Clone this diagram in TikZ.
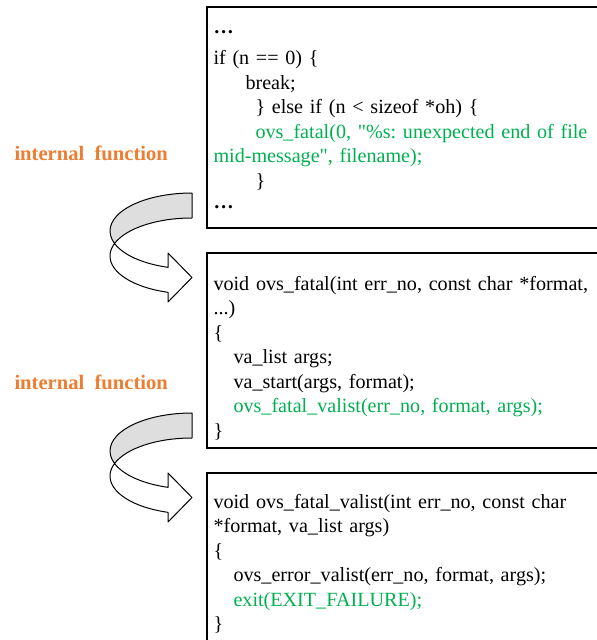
\documentclass[tikz,border=0pt]{standalone}
\usepackage{fontspec}
\setmainfont{Liberation Serif}
\definecolor{codegreen}{RGB}{0,176,80}
\definecolor{noteorange}{RGB}{237,125,49}
\definecolor{bandgray}{RGB}{222,222,222}
\newcommand{\codefont}{\fontsize{15.1pt}{18.4pt}\selectfont\frenchspacing}
\newcommand{\notefont}{\fontsize{15.45pt}{18.4pt}\selectfont\bfseries}
\tikzset{every picture/.style={line width=0.75pt},
  codebox/.style={draw, line width=1pt},
  codetext/.style={anchor=base west, inner sep=0pt, text width=330pt, align=left, font=\codefont},
  callnote/.style={anchor=base west, inner sep=0pt, font=\notefont, text=noteorange},
  backband/.style={draw, fill=bandgray, line join=round},
  frontband/.style={draw, fill=white, line join=round}}

\begin{document}
\begin{tikzpicture}[x=0.75pt,y=0.75pt,yscale=-1,xscale=1]
\useasboundingbox (0,0) rectangle (597,640);
\clip (0,0) rectangle (597,640);

%Shape: Rectangle [caller]
\draw[codebox] (207,7) rectangle (620,228);
%Shape: Rectangle [ovs_fatal]
\draw[codebox] (207,253) rectangle (620,448);
%Shape: Rectangle [ovs_fatal_valist]
\draw[codebox] (207,473) rectangle (620,660);

%Curved Arrow: caller -> ovs_fatal
\draw[backband] (192,193) arc[start angle=-90, end angle=-199.2, x radius=82, y radius=38] arc[start angle=-160.8, end angle=-90, x radius=82, y radius=38] -- cycle;
\draw[frontband] (114.56,243.5) arc[start angle=160.8, end angle=107, x radius=82, y radius=38] -- (168,253) -- (192,277.5) -- (168,302) -- (168,292.34) arc[start angle=107, end angle=199.2, x radius=82, y radius=38] -- cycle;

%Curved Arrow: ovs_fatal -> ovs_fatal_valist
\draw[backband] (192,413) arc[start angle=-90, end angle=-199.2, x radius=82, y radius=38] arc[start angle=-160.8, end angle=-90, x radius=82, y radius=38] -- cycle;
\draw[frontband] (114.56,463.5) arc[start angle=160.8, end angle=107, x radius=82, y radius=38] -- (168,473) -- (192,497.5) -- (168,522) -- (168,512.34) arc[start angle=107, end angle=199.2, x radius=82, y radius=38] -- cycle;

% Text Node
\node[callnote] (note1) at (14,160) {internal\ \ function};
% Text Node
\node[callnote] (note2) at (14,389) {internal\ \ function};

% Text Node
\node[codetext] (caller) at (213,33.5) {\textbf{…}\\[4.85pt]
if (n == 0) \{\\
\hspace*{24pt}break;\\
\hspace*{31.5pt}\} else if (n < sizeof *oh) \{\\
\hspace*{31.5pt}\textcolor{codegreen}{ovs\_fatal(0, \textquotedbl\%s: unexpected end of file}\\
\textcolor{codegreen}{mid-message\textquotedbl, filename);}\\
\hspace*{31.5pt}\}\\[-2.6pt]
\textbf{…}};
% Text Node
\node[codetext] (fatal) at (213,290) {void ovs\_fatal(int err\_no, const char *format,\\
...)\\
\{\\
\hspace*{15pt}va\_list args;\\
\hspace*{15pt}va\_start(args, format);\\
\hspace*{15pt}\textcolor{codegreen}{ovs\_fatal\_valist(err\_no, format, args);}\\
\}};
% Text Node
\node[codetext] (valist) at (213,508) {void ovs\_fatal\_valist(int err\_no, const char\\
{*}format, va\_list args)\\
\{\\
\hspace*{15pt}ovs\_error\_valist(err\_no, format, args);\\
\hspace*{15pt}\textcolor{codegreen}{exit(EXIT\_FAILURE);}\\
\}};

\end{tikzpicture}
\end{document}
